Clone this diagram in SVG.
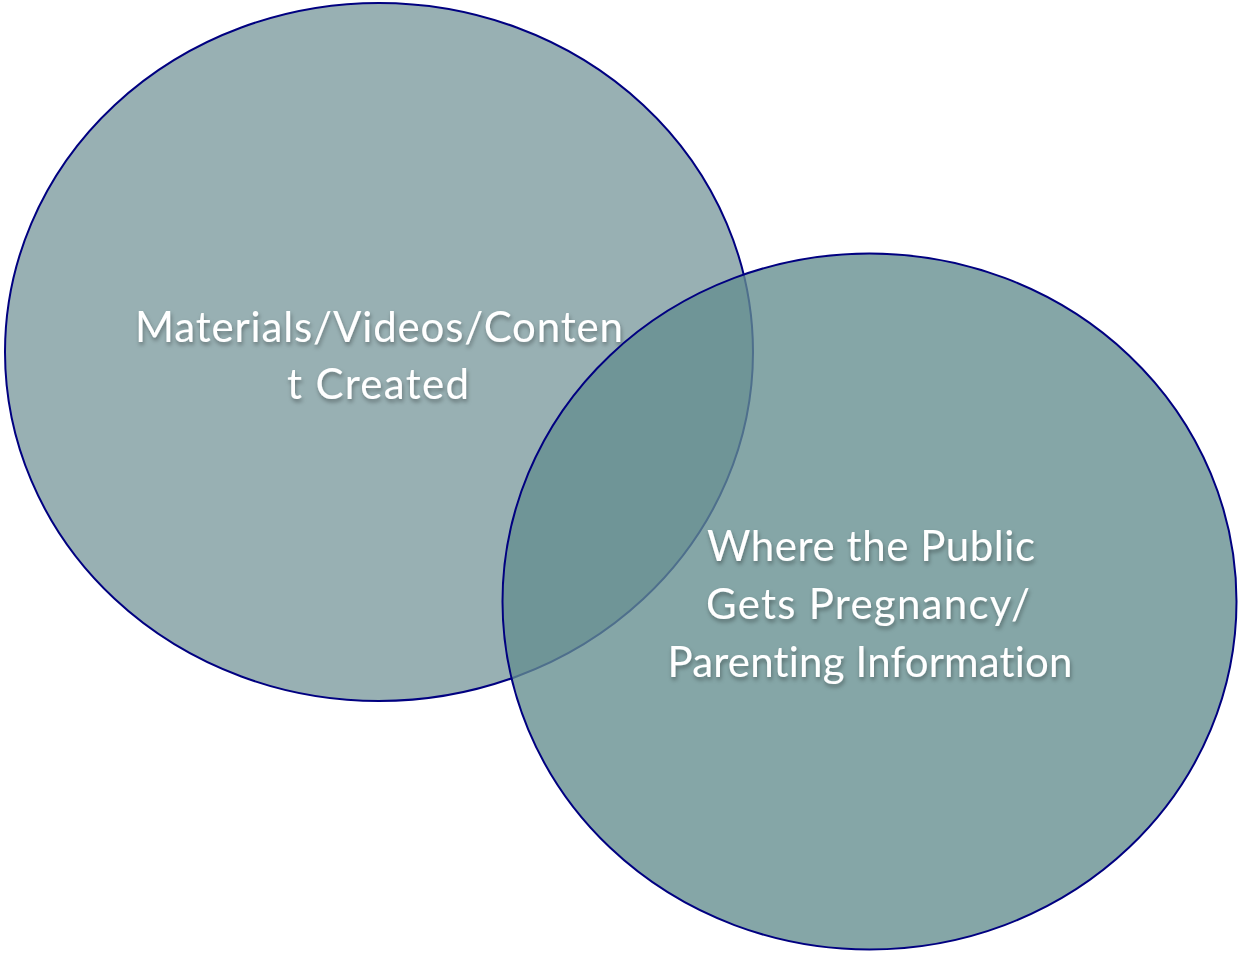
<svg xmlns="http://www.w3.org/2000/svg" width="1238" height="955" viewBox="0 0 1238 955">
  <defs>
    <filter id="txtShadow" x="-10%" y="-30%" width="120%" height="160%">
      <feGaussianBlur in="SourceAlpha" stdDeviation="2"/>
      <feOffset dx="1" dy="3" result="b"/>
      <feFlood flood-color="#000" flood-opacity="0.35"/>
      <feComposite in2="b" operator="in"/>
      <feMerge><feMergeNode/><feMergeNode in="SourceGraphic"/></feMerge>
    </filter>
  </defs>
  <style>
    .set { stroke: #000080; stroke-width: 2; }
    .label { font-family: "Lato", "Open Sans", sans-serif; font-size: 42px; fill: #ffffff; text-anchor: middle; font-variant-ligatures: none; font-feature-settings: "liga" 0; filter: url(#txtShadow); }
  </style>
  <rect width="1238" height="955" fill="#ffffff"/>
  <g id="set-materials">
    <ellipse class="set" cx="379" cy="352" rx="374" ry="349" fill="#98b0b3"/>
    <text class="label" x="379" y="342" textLength="488" lengthAdjust="spacing">Materials/Videos/Conten</text>
    <text class="label" x="378" y="399" textLength="182" lengthAdjust="spacing">t Created</text>
  </g>
  <g id="set-public">
    <ellipse class="set" cx="869.5" cy="601.5" rx="367" ry="348" fill="rgb(100,142,143)" fill-opacity="0.785"/>
    <text class="label" x="871" y="561" textLength="328" lengthAdjust="spacing">Where the Public</text>
    <text class="label" x="868" y="619" textLength="324" lengthAdjust="spacing">Gets Pregnancy/</text>
    <text class="label" x="870" y="677" textLength="405" lengthAdjust="spacing">Parenting Information</text>
  </g>
  <g id="connectors"/>
</svg>
